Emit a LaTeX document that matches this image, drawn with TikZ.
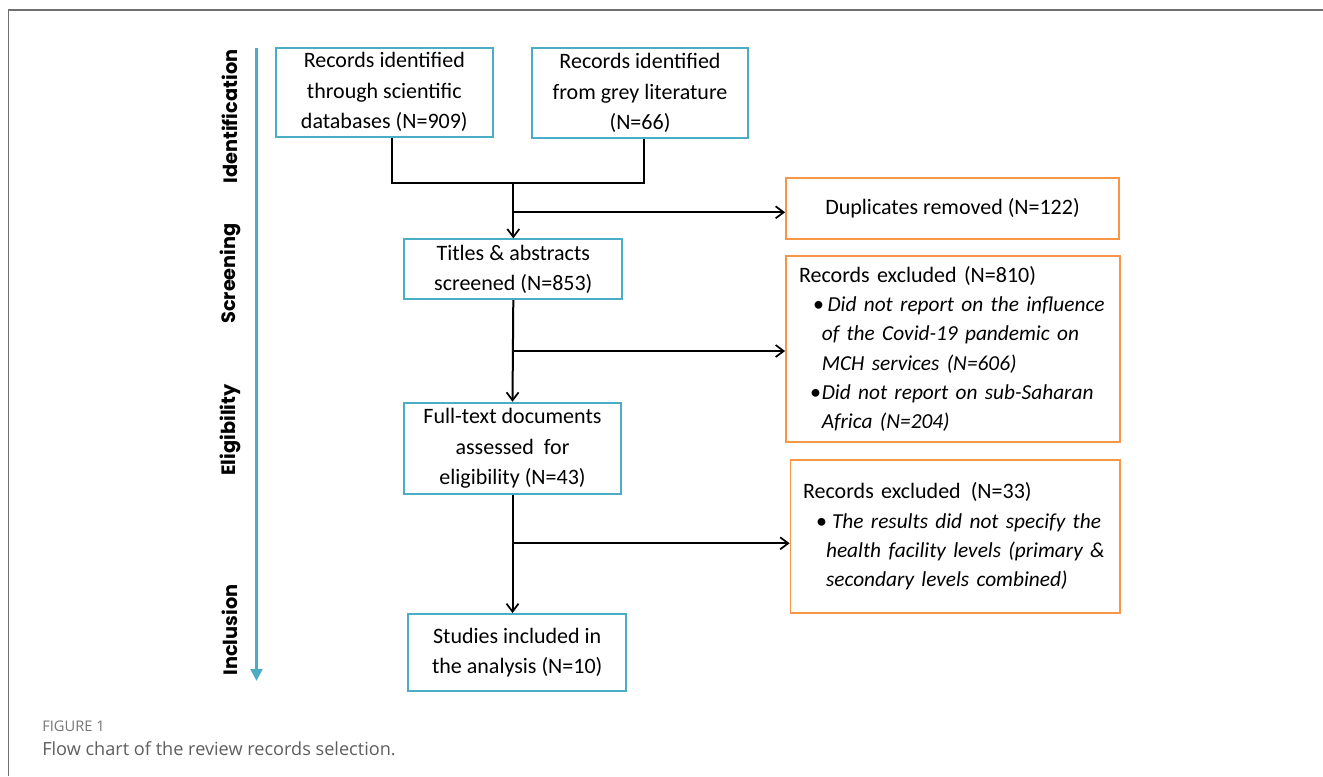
\documentclass[tikz,border=0pt]{standalone}
\usepackage{fontspec}
\setmainfont{Carlito}
\newfontfamily\stagefont{Poppins}
\newfontfamily\captfont{Open Sans}
\usetikzlibrary{arrows.meta,positioning}
\definecolor{boxblue}{HTML}{4BACC6}
\definecolor{boxorange}{HTML}{F79646}
\definecolor{framegray}{HTML}{707070}
\definecolor{captgray}{HTML}{5E5E5E}
\newcommand{\exline}[2]{\mbox{\hspace*{#1}#2}}
\newcommand{\exital}[1]{{\fontsize{16}{22}\selectfont\itshape #1}}
\tikzset{
  flowbox/.style={draw=boxblue, line width=1.4pt, align=center, inner sep=0pt,
    font=\fontsize{16.5}{22.9}\selectfont},
  exclbox/.style={draw=boxorange, line width=1.4pt, align=left, inner ysep=0pt,
    font=\fontsize{16.5}{22}\selectfont},
  stagelabel/.style={rotate=90, inner sep=0pt, font=\stagefont\bfseries\fontsize{14.5}{17}\selectfont},
  flowline/.style={line width=1.5pt, black},
  flowarrow/.style={flowline, -{Straight Barb[length=6pt,width=9pt,line width=1.3pt]}},
  captext/.style={anchor=base west, inner sep=0pt, text=captgray},
}
\begin{document}
\begin{tikzpicture}[x=0.75pt,y=-0.75pt]
\useasboundingbox (0,0) rectangle (1323,776);
\draw [framegray, line width=1.1pt] (8.4,776) -- (8.4,10) -- (1323,10);
\coordinate (tltop) at (256.5,48);
\coordinate (tlend) at (256.5,681);
\draw [boxblue, line width=2.3pt, -{Triangle[length=9pt,width=8.7pt]}] (tltop) -- (tlend);
\node [stagelabel] (ident) at (230,116.5) {Identification};
\node [stagelabel] (screen) at (230,273.5) {Screening};
\node [stagelabel] (elig) at (230,430) {Eligibility};
\node [stagelabel] (incl) at (230,630) {Inclusion};
\node [flowbox, minimum width=162.5pt, minimum height=66.75pt] (sci) at (384.3,92.2)
  {Records identified\\through scientific\\databases (N=909)};
\node [flowbox, minimum width=162.5pt, minimum height=67pt] (grey) at (640,93)
  {Records identified\\from grey literature\\(N=66)};
\node [flowbox, minimum width=163.5pt, minimum height=44.8pt] (titles) at (513.3,269.2)
  {Titles \& abstracts\\screened (N=853)};
\node [flowbox, minimum width=163.2pt, minimum height=68.7pt] (fulltext) at (512.5,448.5)
  {Full-text documents\\assessed~ for\\eligibility (N=43)};
\node [flowbox, minimum width=163.3pt, minimum height=57.75pt] (studies) at (517.2,652.5)
  {Studies included in\\the analysis (N=10)};
\node [exclbox, align=center, inner sep=0pt, minimum width=249.75pt, minimum height=45.5pt] (dupl) at (952.5,208.7)
  {Duplicates removed (N=122)};
\node [exclbox, inner xsep=9.75pt, text width=231pt, minimum height=139.5pt] (excla) at (953,349)
  {\exline{0pt}{Records excluded (N=810)}\\
   \exline{0pt}{\makebox[21.4pt][l]{\hspace*{10.5pt}\textbullet}\exital{Did not report on the influence}}\\
   \exline{17.1pt}{\exital{of the Covid-19 pandemic on}}\\
   \exline{17.1pt}{\exital{MCH services (N=606)}}\\
   \exline{0pt}{\makebox[17.1pt][l]{\hspace*{8.25pt}\textbullet}\exital{Did not report on sub-Saharan}}\\
   \exline{17.1pt}{\exital{Africa (N=204)}}};
\node [exclbox, inner xsep=9.4pt, text width=228.2pt, minimum height=114.75pt] (exclb) at (955.2,536.5)
  {\exline{0pt}{Records excluded\hspace{2pt} (N=33)}\\
   \exline{0pt}{\makebox[21.75pt][l]{\hspace*{9.75pt}\textbullet}\exital{The results did not specify the}}\\
   \exline{17.25pt}{\exital{health facility levels (primary \&}}\\
   \exline{17.25pt}{\exital{secondary levels combined)}}};
\coordinate (joinl) at (391.7,183);
\coordinate (joinr) at (644,183);
\coordinate (trunk) at (513.3,183);
\coordinate (splita) at (513.3,212.3);
\coordinate (splitb) at (513.3,351);
\coordinate (splitc) at (512.5,543.3);
\draw [flowline] (sci.south -| joinl) -- (joinl) -- (joinr) -- (grey.south -| joinr);
\draw [flowarrow] (trunk) -- (titles.north);
\draw [flowarrow] (splita) -- (splita -| dupl.west);
\draw [flowarrow] (titles.south) -- (fulltext.north);
\draw [flowarrow] (splitb) -- (splitb -| excla.west);
\draw [flowarrow] (fulltext.south) -- (fulltext.south |- studies.north);
\draw [flowarrow] (splitc) -- (splitc -| exclb.west);
\node [captext, font=\captfont\fontsize{11}{13}\selectfont, text=captgray!85] (figno) at (42,731.5) {FIGURE 1};
\node [captext, font=\captfont\fontsize{13.6}{15}\selectfont] (caption) at (42,755) {Flow chart of the review records selection.};
\end{tikzpicture}
\end{document}
